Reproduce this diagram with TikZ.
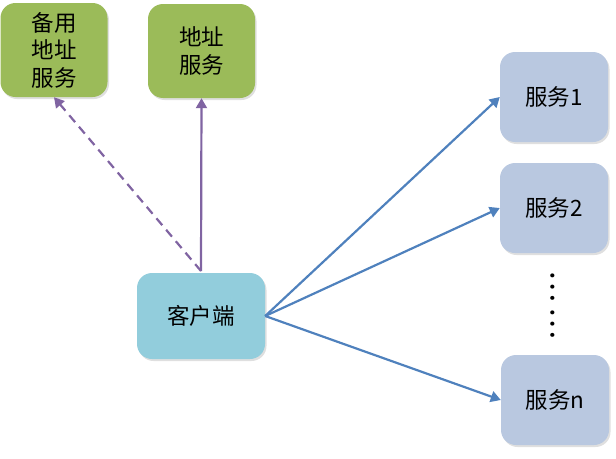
\documentclass[tikz,border=0pt]{standalone}
\usepackage{fontspec}
\setmainfont{Noto Sans CJK SC}
\usepackage{tikz}
\usetikzlibrary{arrows.meta,shadows}
\definecolor{addrgreen}{RGB}{155,187,89}
\definecolor{clientblue}{RGB}{146,205,220}
\definecolor{svcfill}{RGB}{185,200,224}
\definecolor{linkpurple}{RGB}{128,100,162}
\definecolor{linkblue}{RGB}{79,129,189}

\begin{document}
\begin{tikzpicture}[
  x=1pt, y=-1pt,
  font=\fontsize{22.5}{27.5}\selectfont,
  box/.style={rounded corners=15pt, inner sep=2pt, align=center,
              drop shadow={shadow xshift=1.5pt, shadow yshift=-2pt, opacity=0.25}},
  addr/.style={box, fill=addrgreen, minimum width=107pt, minimum height=94pt},
  client/.style={box, fill=clientblue, minimum width=128pt, minimum height=86pt},
  svc/.style={box, fill=svcfill, minimum width=108pt, minimum height=90pt},
  gap/.style={rotate=90, inner sep=0pt, font=\fontsize{30}{30}\selectfont},
  lookup/.style={-{Triangle[length=10pt,width=11pt]}, draw=linkpurple, line width=2.2pt},
  call/.style={-{Triangle[length=10pt,width=11pt]}, draw=linkblue, line width=2.2pt},
]
\useasboundingbox (0,0) rectangle (616,458);

% ============================================================
% address services (top left)
% ============================================================
\node[addr] (backup) at (54,50)    {备用\\地址\\服务};
\node[addr] (main)   at (201.5,51) {地址\\服务};

% ============================================================
% client
% ============================================================
\node[client] (client) at (201,316) {客户端};
\coordinate (ctop) at (201,271);
\draw[lookup, dashed, dash pattern=on 9pt off 6pt] (ctop) -- (backup.south);
\draw[lookup] (ctop) -- (main.south);

% ============================================================
% services (right column)
% ============================================================
\node[svc] (s1) at (554,97)  {服务1};
\node[svc] (s2) at (554,208) {服务2};
\node[svc] (sn) at (555,400) {服务n};
\node[gap] (dotsa) at (553,288) {…};
\node[gap] (dotsb) at (553,325) {…};

\draw[call] (client.east) -- (s1.west);
\draw[call] (client.east) -- (s2.west);
\draw[call] (client.east) -- (sn.west);

\end{tikzpicture}
\end{document}
